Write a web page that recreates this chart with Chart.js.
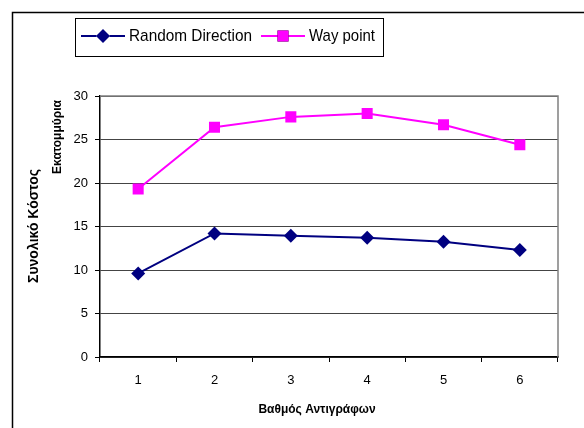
<!DOCTYPE html>
<html>
<head>
<meta charset="utf-8">
<script src="https://cdn.jsdelivr.net/npm/chart.js@4/dist/chart.umd.min.js"></script>
<style>
  html, body { margin: 0; padding: 0; background: #fff; }
  canvas { display: block; }
</style>
</head>
<body>
<canvas id="c" width="584" height="428"></canvas>
<script>
// Replication degree on the x axis, total cost (millions) on the y axis
const categories = ['1', '2', '3', '4', '5', '6'];
const randomDirection = [9.6, 14.2, 13.95, 13.7, 13.25, 12.3];
const wayPoint = [19.3, 26.4, 27.6, 28.0, 26.7, 24.4];
const yTicks = [0, 5, 10, 15, 20, 25, 30];

const seriesNames = ['Random Direction', 'Way point'];
const yTitle = 'Συνολικό Κόστος';
const ySubTitle = 'Εκατομμύρια';
const xTitle = 'Βαθμός Αντιγράφων';

const NAVY = '#000080';
const MAGENTA = '#FF00FF';
const FONT = '"Liberation Sans", Arial, sans-serif';

// Outer frame, plot border, axis titles and the boxed legend
const decorations = {
  id: 'decorations',
  afterDraw(chart) {
    const ctx = chart.ctx;
    const a = chart.chartArea;
    ctx.save();

    // plot border (top and right)
    ctx.strokeStyle = '#808080';
    ctx.lineWidth = 1.5;
    ctx.beginPath();
    ctx.moveTo(a.left, a.top);
    ctx.lineTo(a.right, a.top);
    ctx.lineTo(a.right, a.bottom);
    ctx.stroke();

    // outer frame
    ctx.strokeStyle = '#000';
    ctx.lineWidth = 1.5;
    ctx.beginPath();
    ctx.moveTo(12.5, 428);
    ctx.lineTo(12.5, 12.5);
    ctx.lineTo(584, 12.5);
    ctx.stroke();

    // y titles
    ctx.fillStyle = '#000';
    ctx.textAlign = 'center';
    ctx.textBaseline = 'middle';
    ctx.save();
    ctx.translate(34, 226);
    ctx.rotate(-Math.PI / 2);
    ctx.font = 'bold 14px ' + FONT;
    ctx.fillText(yTitle, 0, 0, 122);
    ctx.restore();
    ctx.save();
    ctx.translate(58, 137);
    ctx.rotate(-Math.PI / 2);
    ctx.font = 'bold 12px ' + FONT;
    ctx.fillText(ySubTitle, 0, 0, 80);
    ctx.restore();

    // x title
    ctx.font = 'bold 12px ' + FONT;
    ctx.fillText(xTitle, 317, 410);

    // legend box
    ctx.strokeStyle = '#000';
    ctx.lineWidth = 1;
    ctx.fillStyle = '#fff';
    ctx.fillRect(75.5, 18.5, 308, 38);
    ctx.strokeRect(75.5, 18.5, 308, 38);

    const items = [
      { x: 81, text: seriesNames[0], w: 123, ds: chart.data.datasets[0] },
      { x: 261, text: seriesNames[1], w: 66, ds: chart.data.datasets[1] }
    ];
    const ly = 36;
    items.forEach(it => {
      ctx.strokeStyle = it.ds.borderColor;
      ctx.lineWidth = 2;
      ctx.beginPath();
      ctx.moveTo(it.x, ly);
      ctx.lineTo(it.x + 44, ly);
      ctx.stroke();
      Chart.helpers.drawPoint(ctx, {
        pointStyle: it.ds.pointStyle,
        radius: it.ds.pointRadius,
        rotation: 0,
        borderWidth: 0
      }, it.x + 22, ly);
      ctx.fillStyle = it.ds.pointBackgroundColor;
      ctx.fill();
      ctx.fillStyle = '#000';
      ctx.textAlign = 'left';
      ctx.textBaseline = 'middle';
      ctx.font = '17px ' + FONT;
      ctx.fillText(it.text, it.x + 48, ly, it.w);
    });

    ctx.restore();
  }
};

new Chart(document.getElementById('c'), {
  type: 'line',
  data: {
    labels: categories,
    datasets: [
      {
        label: seriesNames[0],
        data: randomDirection,
        borderColor: NAVY,
        backgroundColor: NAVY,
        pointBackgroundColor: NAVY,
        pointBorderColor: NAVY,
        borderWidth: 2,
        pointStyle: 'rectRot',
        pointRadius: 7,
        pointBorderWidth: 0,
        tension: 0
      },
      {
        label: seriesNames[1],
        data: wayPoint,
        borderColor: MAGENTA,
        backgroundColor: MAGENTA,
        pointBackgroundColor: MAGENTA,
        pointBorderColor: MAGENTA,
        borderWidth: 2,
        pointStyle: 'rect',
        pointRadius: 7.8,
        pointBorderWidth: 0,
        tension: 0
      }
    ]
  },
  options: {
    responsive: false,
    animation: false,
    devicePixelRatio: 1,
    layout: { padding: { left: 0, top: 96, right: 26, bottom: 0 } },
    plugins: { legend: { display: false }, tooltip: { enabled: false } },
    scales: {
      x: {
        offset: true,
        afterFit(scale) { scale.height = 71; },
        grid: {
          offset: true,
          drawOnChartArea: false,
          drawTicks: true,
          tickLength: 5,
          tickColor: '#000'
        },
        border: { color: '#000', width: 1.5 },
        ticks: {
          color: '#000',
          font: { family: FONT, size: 13 },
          padding: 11,
          maxRotation: 0
        }
      },
      y: {
        min: 0,
        max: 30,
        afterFit(scale) { scale.width = 100; },
        afterBuildTicks(scale) { scale.ticks = yTicks.map(v => ({ value: v })); },
        grid: {
          color: '#444',
          lineWidth: 1,
          drawTicks: true,
          tickLength: 5,
          tickColor: '#000'
        },
        border: { color: '#000', width: 1.5 },
        ticks: {
          color: '#000',
          font: { family: FONT, size: 13 },
          padding: 7
        }
      }
    }
  },
  plugins: [decorations]
});
</script>
</body>
</html>
